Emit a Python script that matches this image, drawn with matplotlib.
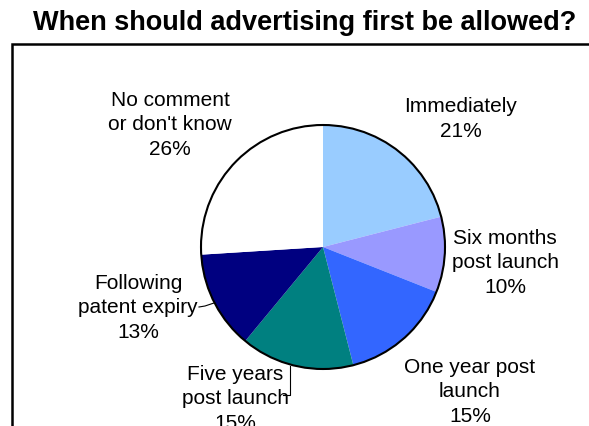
import matplotlib
matplotlib.use("Agg")
import matplotlib.pyplot as plt
from matplotlib.patches import Circle, Rectangle

plt.rcParams["font.family"] = ["Liberation Sans", "DejaVu Sans"]

# survey answers, clockwise from 12 o'clock
labels = [
    "Immediately",
    "Six months\npost launch",
    "One year post\nlaunch",
    "Five years\npost launch",
    "Following\npatent expiry",
    "No comment\nor don't know",
]
shares = [21, 10, 15, 15, 13, 26]
colors = ["#99CCFF", "#9999FF", "#3366FF", "#008080", "#000080", "#FFFFFF"]

# where each label sits (pixel space, y measured from the bottom)
label_pos = [(461, 308), (505, 164), (470, 35), (235, 28), (138, 119), (170, 302)]

W, H = 589, 427
fig = plt.figure(figsize=(W / 100, H / 100), dpi=100)
ax = fig.add_axes([0, 0, 1, 1])

cx, cy, r = 323, 179, 122
ax.pie(
    shares,
    colors=colors,
    startangle=90,
    counterclock=False,
    center=(cx, cy),
    radius=r,
    wedgeprops=dict(linewidth=0),
    frame=True,
)
ax.set_xlim(0, W)
ax.set_ylim(0, H)
ax.set_aspect("equal")
ax.axis("off")
ax.add_patch(Circle((cx, cy), r, fill=False, edgecolor="black", linewidth=1.5, zorder=3))

for lab, val, (x, y) in zip(labels, shares, label_pos):
    ax.text(x, y, f"{lab}\n{val}%", ha="center", va="center", fontsize=15,
            linespacing=1.35, color="black")

# leader lines for the two labels set away from the pie
ax.plot([199, 205, 214], [119, 120, 123], color="black", linewidth=0.8)
ax.plot([283, 290, 290], [31, 31, 60], color="black", linewidth=0.8)

# chart area border
ax.add_patch(Rectangle((12, -20), 600, 402, fill=False, edgecolor="black",
                       linewidth=1.8, clip_on=False))

fig.text(305 / W, 1 - 23 / H, "When should advertising first be allowed?",
         ha="center", va="center", fontsize=19.5, fontweight="bold")

fig.savefig("out.png", dpi=100)
